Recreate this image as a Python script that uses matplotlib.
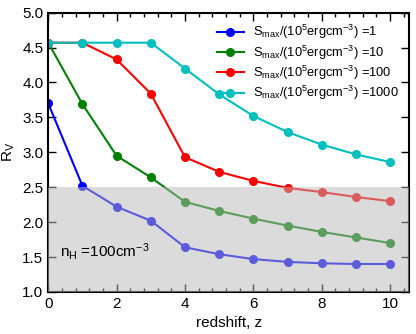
import numpy as np
import matplotlib
matplotlib.use('Agg')
import matplotlib.pyplot as plt
from matplotlib.ticker import MultipleLocator

plt.rcParams['font.family'] = ['Liberation Sans', 'DejaVu Sans']
plt.rcParams['mathtext.fontset'] = 'custom'
plt.rcParams['mathtext.rm'] = 'Liberation Sans'
plt.rcParams['mathtext.it'] = 'Liberation Sans:italic'

# redshift
z = [0, 1, 2, 3, 4, 5, 6, 7, 8, 9, 10]

# R_V for each S_max
rv_1 = [3.70, 2.52, 2.22, 2.02, 1.64, 1.54, 1.47, 1.43, 1.41, 1.40, 1.40]
rv_10 = [4.57, 3.69, 2.95, 2.64, 2.29, 2.16, 2.05, 1.95, 1.86, 1.78, 1.70]
rv_100 = [4.57, 4.57, 4.33, 3.84, 2.93, 2.72, 2.59, 2.49, 2.43, 2.36, 2.30]
rv_1000 = [4.57, 4.57, 4.57, 4.57, 4.20, 3.83, 3.52, 3.29, 3.11, 2.97, 2.86]

smax = ['1', '10', '100', '1000']
colors = ['#0000ff', '#008000', '#ff0000', '#00bfbf']

fig = plt.figure(figsize=(4.16, 3.34), dpi=100)
ax = fig.add_axes([0.116, 0.126, 0.867, 0.836])

for rv, s, c in zip([rv_1, rv_10, rv_100, rv_1000], smax, colors):
    ax.plot(z, rv, '-o', color=c, lw=1.5, ms=5.5,
            label=r'S$_{\rm max}$/(10$^5$ergcm$^{-3}$) =' + s)

# 灰色区域盖在线上面
ax.axhspan(1.0, 2.5, color='#b8b8b8', alpha=0.5, lw=0, zorder=3)

ax.text(0.35, 1.5, r'n$_{\rm H}$ =100cm$^{-3}$', fontsize=11, zorder=4)

ax.set_xlim(0, 10.55)
ax.set_ylim(1.0, 5.0)
ax.xaxis.set_major_locator(MultipleLocator(2))
ax.xaxis.set_minor_locator(MultipleLocator(0.4))
ax.yaxis.set_major_locator(MultipleLocator(0.5))
ax.tick_params(which='both', direction='in', top=True, right=True, labelsize=11)
ax.tick_params(which='major', length=6, width=1)
ax.tick_params(which='minor', length=3, width=1)
for sp in ax.spines.values():
    sp.set_linewidth(1.5)

ax.set_xlabel('redshift, z', fontsize=11)
ax.set_ylabel(r'R$_{\rm V}$', fontsize=11)

ax.legend(loc='upper right', frameon=False, fontsize=9.3, handlelength=2.1,
          handletextpad=0.7, borderaxespad=0.4, labelspacing=0.17)

fig.savefig('out.png', dpi=100)
